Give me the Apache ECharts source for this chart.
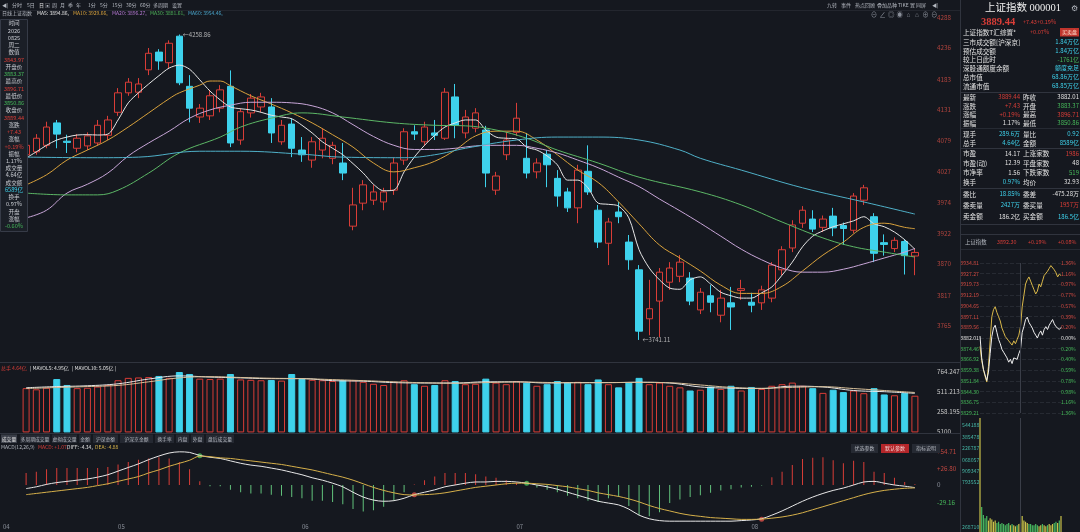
<!DOCTYPE html>
<html>
<head>
<meta charset="utf-8">
<title>上证指数 000001 日线</title>
<script src="https://cdn.jsdelivr.net/npm/echarts@6.0.0/dist/echarts.min.js"></script>
<style>
html,body{margin:0;padding:0;background:#15181f;overflow:hidden;}
#chart{width:1080px;height:532px;}
</style>
</head>
<body>
<div id="chart"></div>
<script>
// ================= DATA =================
const monthCounts = [['04', 9], ['05', 18], ['06', 21], ['07', 23], ['08', 17]];

const opens = [4055,4060,4071,4109,4078,4066,4070,4075,4088,4127,
4160,4161,4199,4229,4211,4256,4171,4119,4121,4134,
4171,4080,4126,4136,4136,4077,4107,4063,4046,4063,
4049,4041,3934,3973,3978,3975,3995,4046,4094,4077,
4092,4083,4153,4092,4100,4097,3995,4055,4093,4049,
4026,4056,4015,3992,3965,4027,3961,3905,3958,3907,
3860,3777,3807,3839,3849,3846,3792,3816,3783,3804,
3825,3805,3804,3812,3860,3897,3939,3946,3932,3951,
3935,3927,3978,3950,3906,3896,3908,3883.37];
const closes = [4071,4083,4102,4090,4076,4083,4087,4105,4114,4160,
4178,4175,4227,4214,4244,4177,4134,4134,4155,4165,
4075,4128,4151,4153,4092,4105,4066,4055,4077,4083,
4071,4024,3970,4004,3992,3992,4041,4094,4090,4102,
4088,4161,4105,4119,4126,4024,4019,4080,4117,4024,
4041,4038,3985,3965,4029,3992,3907,3941,3950,3877,
3756,3794,3856,3863,3873,3807,3822,3805,3812,3797,
3828,3800,3826,3868,3894,3936,3961,3929,3946,3931,
3930,3985,3999,3888,3903,3910,3884,3889.44];
const lows = [4050,4055,4066,4066,4058,4059,4063,4070,4080,4121,
4155,4151,4190,4199,4202,4173,4110,4109,4114,4127,
4068,4072,4118,4127,4075,4072,4051,4043,4033,4049,
4039,4012,3927,3961,3970,3961,3987,4038,4080,4070,
4080,4080,4083,4083,4093,4000,3987,4046,4087,4015,
4015,4000,3967,3958,3939,3987,3897,3868,3939,3860,
3741.11,3749,3746,3826,3839,3800,3785,3788,3771,3758,
3809,3788,3792,3805,3851,3890,3931,3924,3924,3917,
3902,3922,3970,3873,3884,3890,3852,3850.86];
const highs = [4080,4090,4111,4114,4089,4090,4093,4114,4121,4168,
4185,4185,4236,4234,4249,4258.86,4190,4141,4165,4173,
4198,4134,4158,4160,4151,4114,4117,4085,4085,4100,
4077,4075,3999,4012,4004,3999,4050,4100,4105,4111,
4114,4168,4175,4131,4134,4104,4026,4094,4143,4092,
4049,4063,4029,3999,4038,4071,3970,3948,3975,3919,
3868,3843,3863,3873,3885,3856,3829,3834,3826,3831,
3843,3821,3833,3873,3900,3944,3968,3961,3952,3965,
3940,3990,4004,3956,3920,3915,3912,3896.71];

const ma5 = [4049.5,4060,4071,4080,4085,4088.5,4089,4088.5,4090,4114,
4143,4160,4175,4189,4202,4207,4200,4182,4163,4148,
4136,4133,4131,4127,4122,4119,4116,4105,4092,4077,
4066,4055,4040,4024,4005,3994,3995,4026,4051,4071,
4088,4102,4109,4114,4114,4097,4085,4083,4082,4068,
4063,4053,4038,4012,4012,3999,3973,3971,3968,3948,
3894,3863,3843,3829,3827,3843,3848,3836,3822,3816,
3812,3812,3821,3831,3851,3873,3899,3917,3926,3933,
3938,3943,3950,3938,3933,3924,3911,3894.86];
const ma10 = [[0,4004],[2,4021],[4,4046],[6,4063],[8,4080],[10,4102],[12,4126],[14,4150],[15,4160],[17,4173],[18,4180],[19,4180],[20,4172],[22,4155],[24,4141],[26,4126],[28,4109],[30,4089],[32,4068],[34,4041],[36,4026],[38,4033],[40,4044],[42,4063],[44,4087],[46,4095],[48,4095],[50,4080],[52,4055],[54,4029],[56,4008],[58,3975],[60,3938],[62,3902],[64,3880],[66,3858],[68,3834],[70,3820],[72,3820],[74,3832],[76,3858],[78,3885],[80,3907],[82,3932],[84,3939],[86,3932],[87,3929.66]];
const ma20 = [[0,3948],[2,3961],[4,3990],[6,4005],[8,4024],[10,4053],[12,4075],[14,4095],[16,4117],[18,4131],[20,4139],[22,4144],[24,4144],[26,4143],[28,4138],[30,4126],[32,4106],[34,4086],[36,4071],[38,4064],[40,4064],[42,4066],[44,4070],[46,4071],[48,4071],[50,4066],[52,4058],[54,4046],[56,4033],[58,4017],[60,4001],[62,3980],[64,3960],[66,3939],[68,3917],[70,3895],[72,3877],[74,3863],[76,3856],[78,3856],[80,3861],[82,3870],[84,3880],[86,3890],[87,3896.27]];
const ma30 = [[0,3990],[4,3987],[7,3987],[9,3995],[12,4024],[15,4058],[19,4085],[21,4102],[24,4117],[27,4126],[31,4119],[36,4109],[40,4105],[43,4104],[46,4097],[49,4083],[52,4063],[56,4041],[60,4017],[66,3992],[70,3970],[74,3941],[78,3914],[81,3899],[84,3890],[87,3881.61]];
const ma60 = [[0,4051],[7,4050],[11,4051],[17,4061],[21,4061],[27,4056],[31,4051],[37,4050],[40,4055],[43,4066],[48,4080],[52,4085],[56,4085],[60,4080],[64,4063],[66,4049],[70,4029],[76,3999],[82,3975],[87,3954.46]];

const volumes = [560,545,565,675,600,560,565,580,600,660,
690,695,700,714,690,764,739,680,675,680,
739,670,665,660,663,655,739,676,665,660,
650,663,660,640,615,600,640,660,610,590,
600,660,650,610,615,680,630,610,650,630,
590,610,650,630,640,610,670,610,570,630,
690,610,630,590,570,530,540,580,550,590,
530,575,550,590,610,630,590,560,500,540,
510,530,496,560,480,470,500,464];
const mavol5 = [[0,565],[3,580],[6,590],[9,615],[12,675],[15,715],[18,700],[21,690],[24,680],[27,680],[30,655],[33,648],[36,630],[39,625],[42,625],[45,640],[48,640],[51,625],[54,630],[57,630],[60,635],[63,625],[66,575],[69,560],[72,555],[75,585],[78,575],[81,530],[84,515],[87,495]];
const mavol10 = [[0,555],[3,568],[6,580],[9,595],[12,640],[15,690],[18,705],[21,695],[24,685],[27,680],[30,668],[33,655],[36,640],[39,628],[42,622],[45,630],[48,638],[51,632],[54,628],[57,630],[60,632],[63,628],[66,600],[69,570],[72,558],[75,570],[78,578],[81,555],[84,530],[87,505]];

const dif = [-6,-3,1,4,6,8,10,13,17,23,
29,35,42,48,53,55,54,49,46,44,
40,36,33,31,28,25,21,17,12,8,
3,-3,-12,-20,-25,-27,-26,-22,-16,-12,
-8,-3,0,3,5,5,6,6,5,3,
0,-3,-7,-12,-17,-22,-27,-30,-33,-40,
-50,-56,-59,-60,-60,-60,-60,-60,-60,-60,
-59,-58,-56,-50,-43,-35,-27,-20,-14,-9,
-5,0,5,6,3,0,-2,-4.34];
const dea = [-16,-14,-12,-10,-8,-6,-4,-1,2,6,
10,14,20,25,31,36,41,48,47,45,
44,42,40,38,36,34,31,28,25,21,
17,13,8,2,-4,-9,-13,-16,-16.5,-16,
-15,-13,-10,-7,-4,-2,0,2,3,3,
2,1,-1,-3,-6,-9,-13,-16,-19,-23,
-28,-34,-39,-43,-47,-50,-52,-54,-55,-56,
-57,-57,-56.5,-55,-53,-50,-46,-41,-36,-31,
-26,-21,-16,-12,-9,-7,-5.5,-4.88];
const macdHist = [20,22,26,28,28,28,28,28,30,34,
38,42,44,46,44,38,26,6,-2,-2,
-8,-12,-14,-14,-16,-18,-20,-22,-26,-26,
-28,-32,-40,-44,-42,-36,-26,-12,1,8,
14,20,20,20,18,14,12,8,4,0,
-4,-8,-12,-18,-22,-26,-28,-22,-20,-35,
-50,-52,-45,-30,-24,-20,-17,-13,-9,-7,
-4,-3,-1,13,22,33,43,45,46,41,
36,40,38,22,20,12,5,1.07];
const crossMarks = [[17, 48.5, 'g'], [38, -16.2, 'r'], [49, 3, 'g'], [72, -56.7, 'r']];

const priceTicks = [3765, 3817, 3870, 3922, 3974, 4027, 4079, 4131, 4183, 4236, 4288];
const volTickValues = [5.175, 258.195, 511.213, 764.247];
const volTickLabels = ['5100', '258.195', '511.213', '764.247'];
const macdTickValues = [-29.16, 0, 26.80, 54.71];
const macdTickLabels = ['-29.16', '0', '+26.80', '+54.71'];

// intraday mini chart (5-minute samples)
const miniIndex = [3883.4,3868,3860,3856,3852,3858,3871,3883,3889,3891,3886,3881,3878,3874,3872,3870,3868,3865,3867,3864,3868,3869,3867,3871,3874,
3886,3890,3895,3896.7,3893,3891,3889,3886,3884,3882,3885,3887,3884,3888,3890,3888,3891,3893,3895,3892,3890,3891,3888,3889.44];
const miniLead = [3876,3866,3860,3855,3851,3862,3880,3897,3902,3904,3900,3897,3894,3889,3886,3883,3882,3880,3879,3877,3880,3878,3881,3884,3890,
3904,3912,3920,3923,3925,3922,3919,3916,3913,3915,3920,3918,3922,3926,3925,3929,3931,3933,3934,3930,3928,3925,3927,3926];
const miniVol = [100,22,15,12,14,10,12,11,9,10,8,9,7,8,7,6,7,8,6,7,6,5,6,7,8,
14,10,9,8,7,7,6,6,7,6,5,6,7,6,5,6,7,6,7,8,9,8,10,14];
const miniTicks = [3829.21,3836.75,3844.30,3851.84,3859.38,3866.92,3874.46,3882.01,3889.56,3897.11,3904.65,3912.19,3919.73,3927.27,3934.81];
const miniPct = ['1.36%','1.16%','0.97%','0.77%','0.57%','0.39%','0.20%','0.00%','0.20%','0.40%','0.59%','0.78%','0.98%','1.16%','1.36%'];

// ================= BUILD =================
const RED = '#d93d37', CYAN = '#3ed2ec', GREEN = '#46b95a', MGREEN = '#62c27c';
const WHITE = '#e2e2e2', GRAY = '#b4b8c0', DIM = '#8a8f99';
const FONT = '"Noto Sans CJK SC", "Noto Sans", sans-serif';

const categories = [];
const monthStartIdx = [];
monthCounts.forEach(([m, n]) => {
  monthStartIdx.push(categories.length);
  for (let d = 1; d <= n; d++) categories.push(m + '-' + d);
});
const miniTimes = [];
for (let k = 0; k <= 24; k++) { const t = 570 + 5 * k; miniTimes.push(Math.floor(t / 60) + ':' + String(t % 60).padStart(2, '0')); }
for (let k = 1; k <= 24; k++) { const t = 780 + 5 * k; miniTimes.push(Math.floor(t / 60) + ':' + String(t % 60).padStart(2, '0')); }

const ohlc = opens.map((o, i) => [o, closes[i], lows[i], highs[i]]);
const volData = volumes.map((v, i) => {
  const up = closes[i] >= opens[i];
  return { value: v, itemStyle: { color: up ? 'rgba(0,0,0,0)' : CYAN, borderColor: up ? RED : CYAN, borderWidth: 1 } };
});
const macdData = macdHist.map(v => ({ value: v, itemStyle: { color: v >= 0 ? RED : MGREEN } }));
const miniVolData = miniVol.map((v, i) => ({ value: v, itemStyle: { color: (i === 0 || miniIndex[i] >= miniIndex[i - 1]) ? '#c9c24a' : '#48b860' } }));

function nearest(arr, v) { let bi = 0, bd = Infinity; arr.forEach((a, i) => { const d = Math.abs(a - v); if (d < bd) { bd = d; bi = i; } }); return bi; }

// graphics helpers
const G = [];
function T(x, y, text, fill, size, align, opt) {
  const e = { type: 'text', x: x, y: y, z: 100, silent: true,
    style: { text: text, fill: fill || GRAY, font: (size || 6) + 'px ' + FONT,
      align: align || 'left', verticalAlign: 'middle', textAlign: align || 'left', textVerticalAlign: 'middle' } };
  if (opt && opt.font) e.style.font = opt.font;
  G.push(e);
}
function R(x, y, w, h, fill, stroke, z) {
  G.push({ type: 'rect', z: z || 98, silent: true, shape: { x: x, y: y, width: w, height: h }, style: { fill: fill, stroke: stroke || null, lineWidth: 1 } });
}
function L(x1, y1, x2, y2, c) {
  G.push({ type: 'line', z: 97, silent: true, shape: { x1: x1, y1: y1, x2: x2, y2: y2 }, style: { stroke: c || '#2c303a', lineWidth: 1 } });
}

// separators
L(0, 362.5, 960, 362.5, '#30343e');
L(0, 433.5, 960, 433.5, '#30343e');
L(960.5, 0, 960.5, 532, '#30343e');
L(0, 10.5, 960, 10.5, '#23262e');

// top toolbar
[['◀|', 2], ['分时', 12], ['5日', 27], ['日', 39], ['▣', 45], ['周', 52], ['月', 60], ['季', 68], ['年', 76], ['1分', 88], ['5分', 100], ['15分', 112], ['30分', 126], ['60分', 140], ['多周期', 153], ['设置', 172]]
  .forEach(([t, x]) => T(x, 5, t, t === '日' ? WHITE : GRAY, 5));
[['九转', 827], ['事件', 841], ['热点回顾', 855], ['叠加品种', 877], ['TIKE', 898], ['置', 910], ['同屏', 916], ['◀|', 932]]
  .forEach(([t, x]) => T(x, 5, t, GRAY, 5));
['⊖', '∠', '◎', '◉', '⌂', '⌂', '⊕', '⊖'].forEach((t, i) => T(874 + i * 8.6, 15, t, DIM, 6.5, 'center'));

// MA legend row
T(2, 13.5, '日线', GRAY, 5);
T(12, 13.5, '上证指数', GRAY, 5);
T(37, 13.5, 'MA5: 3894.86,', WHITE, 5);
T(73, 13.5, 'MA10: 3929.66,', '#d9a23c', 5);
T(112, 13.5, 'MA20: 3896.27,', '#b477d1', 5);
T(150, 13.5, 'MA30: 3881.61,', '#4fb65a', 5);
T(188, 13.5, 'MA60: 3954.46,', '#4aa6cc', 5);

// left info panel
R(0.5, 19.5, 27, 212, '#1b1f27', '#363b47', 99);
const leftInfo = [['时间'], ['2026'], ['0825'], ['周二'], ['数值'], ['3843.97', RED], ['开盘价'], ['3883.37', GREEN], ['最高价'], ['3896.71', RED], ['最低价'], ['3850.86', GREEN], ['收盘价'], ['3889.44', RED], ['涨跌'], ['+7.43', RED], ['涨幅'], ['+0.19%', RED], ['振幅'], ['1.17%'], ['成交量'], ['4.64亿'], ['成交额'], ['6589亿', CYAN], ['换手'], ['0.97%'], ['开盘'], ['涨幅'], ['-0.60%', GREEN]];
leftInfo.forEach(([t, c], i) => T(14, 23.3 + i * 7.24, t, c || '#c9ccd2', 5.6, 'center'));

// volume legend
T(1, 368, '总手 4.64亿', RED, 5);
T(30, 368, '| MAVOL5: 4.95亿', WHITE, 5);
T(72, 368, '| MAVOL10: 5.05亿 |', WHITE, 5);

// indicator tabs
[['成交量', 1, 18], ['多周期成交量', 20, 51], ['虚拟成交量', 52, 78], ['金额', 79, 92], ['沪深金额', 93, 119], ['沪深京金额', 120, 154], ['换手率', 155, 175], ['内盘', 176, 190], ['外盘', 191, 205], ['盘后成交量', 206, 235]]
  .forEach(([t, a, b], i) => { R(a, 434.5, b - a - 1, 8.5, i === 0 ? '#3b3f49' : '#242831', null, 98); T((a + b - 1) / 2, 439, t, i === 0 ? WHITE : GRAY, 4.8, 'center'); });

// MACD legend
T(1, 447.5, 'MACD(12,26,9)', GRAY, 5);
T(38, 447.5, 'MACD: +1.07,', RED, 5);
T(67, 447.5, 'DIFF: -4.34,', WHITE, 5);
T(95, 447.5, 'DEA: -4.88', '#d9b44a', 5);
// MACD buttons
R(851, 444, 27, 9, '#262a33'); T(864.5, 448.5, '优选参数', GRAY, 5, 'center');
R(881, 444, 28, 9, '#b3262a'); T(895, 448.5, '默认参数', '#f3d6d6', 5, 'center');
R(912, 444, 28, 9, '#262a33'); T(926, 448.5, '指标说明', GRAY, 5, 'center');
T(3, 527, '04', DIM, 6, 'left');

// right panel
T(1023, 8, '上证指数 000001', '#f0f0f0', 10.5, 'center', { font: '10.5px "Liberation Serif", "Noto Sans CJK SC", serif' });
T(1074, 8, '⚙', GRAY, 8, 'center');
T(981, 22, '3889.44', RED, 10.5, 'left', { font: 'bold 10.5px "Liberation Serif", serif' });
T(1023, 22, '+7.43', RED, 5.6);
T(1037, 22, '+0.19%', RED, 5.6);
T(963, 32, '上证指数T汇综置*', WHITE, 6.6);
T(1030, 32, '+0.07%', RED, 5.6);
R(1060, 28, 19, 8.5, '#c0352d', null, 99); T(1069.5, 32.2, '买卖盘', '#ffe7d6', 5, 'center');
const rightRows1 = [['三市成交额[沪深京]', '1.84万亿', CYAN, 42], ['预估成交额', '1.84万亿', CYAN, 51], ['较上日此时', '-1761亿', GREEN, 59.5], ['深股通额度余额', '额度充足', CYAN, 68], ['总市值', '68.86万亿', CYAN, 77], ['流通市值', '68.85万亿', CYAN, 86]];
rightRows1.forEach(([a, b, c, y]) => { T(963, y, a, WHITE, 6.6); T(1079, y, b, c, 6, 'right'); });
L(961, 92.5, 1080, 92.5, '#30343e');
const rightRows2 = [
  [97, '最新', '3889.44', RED, '昨收', '3882.01', WHITE],
  [106, '涨跌', '+7.43', RED, '开盘', '3883.37', GREEN],
  [114.5, '涨幅', '+0.19%', RED, '最高', '3896.71', RED],
  [123, '振幅', '1.17%', WHITE, '最低', '3850.86', GREEN],
  [134, '现手', '289.6万', CYAN, '量比', '0.92', CYAN],
  [143, '总手', '4.64亿', CYAN, '金额', '8589亿', CYAN],
  [153.5, '市盈', '14.17', WHITE, '上涨家数', '1986', RED],
  [163, '市盈(动)', '12.39', WHITE, '平盘家数', '48', WHITE],
  [172.5, '市净率', '1.56', WHITE, '下跌家数', '519', GREEN],
  [182, '换手', '0.97%', CYAN, '均价', '32.93', WHITE],
  [194, '委比', '18.85%', CYAN, '委差', '-475.28万', WHITE],
  [205, '委卖量', '2427万', CYAN, '委买量', '1957万', RED],
  [216.5, '卖金额', '186.2亿', WHITE, '买金额', '186.5亿', CYAN]
];
rightRows2.forEach(([y, a, b, cb, c, d, cd]) => { T(963, y, a, WHITE, 6.6); T(1020, y, b, cb, 6, 'right'); T(1023, y, c, WHITE, 6.6); T(1079, y, d, cd, 6, 'right'); });
L(961, 128.5, 1080, 128.5, '#262a33');
L(961, 148.5, 1080, 148.5, '#30343e');
L(961, 188.5, 1080, 188.5, '#30343e');
L(961, 224.5, 1080, 224.5, '#30343e');
L(961, 234.5, 1080, 234.5, '#30343e');
T(965, 241.5, '上证指数', GRAY, 5.4);
T(997, 241.5, '3892.30', RED, 5.4);
T(1028, 241.5, '+0.19%', RED, 5.4);
T(1058, 241.5, '+0.08%', RED, 5.4);
L(961, 249.5, 1080, 249.5, '#262a33');
[['544188', 425], ['385478', 437], ['226787', 448], ['068057', 460], ['909347', 471], ['793552', 482], ['268710', 527]]
  .forEach(([t, y]) => T(962, y, t, '#46b7a6', 5.2));

// ================= OPTION =================
const noAxis = { axisLine: { show: false }, axisTick: { show: false }, splitLine: { show: false } };
const option = {
  backgroundColor: '#15181f',
  animation: false,
  textStyle: { fontFamily: FONT },
  grid: [
    { left: 21, top: 12, width: 899, height: 346, outerBoundsMode: 'none' },
    { left: 21, top: 362, width: 899, height: 70, outerBoundsMode: 'none' },
    { left: 21, top: 445, width: 899, height: 77, outerBoundsMode: 'none' },
    { left: 980, top: 263, width: 81, height: 150, outerBoundsMode: 'none' },
    { left: 980, top: 418, width: 81, height: 114, outerBoundsMode: 'none' }
  ],
  xAxis: [
    { type: 'category', gridIndex: 0, data: categories, boundaryGap: true, show: false },
    { type: 'category', gridIndex: 1, data: categories, boundaryGap: true, show: false },
    { type: 'category', gridIndex: 2, data: categories, boundaryGap: true, ...noAxis,
      axisLabel: { interval: (i) => monthStartIdx.indexOf(i) > 0, formatter: v => v.split('-')[0], color: DIM, fontSize: 6, margin: 2, align: 'left', hideOverlap: false } },
    { type: 'category', gridIndex: 3, data: miniTimes, boundaryGap: false, show: false },
    { type: 'category', gridIndex: 4, data: miniTimes, boundaryGap: false, show: false }
  ],
  yAxis: [
    { type: 'value', gridIndex: 0, position: 'right', min: 3710.5, max: 4297, ...noAxis,
      axisLabel: { customValues: priceTicks, formatter: v => String(Math.round(v)), color: '#b0443d', fontSize: 6.3, margin: 17, hideOverlap: false } },
    { type: 'value', gridIndex: 1, position: 'right', min: 5.175, max: 890.7, ...noAxis,
      axisLabel: { customValues: volTickValues, formatter: v => volTickLabels[nearest(volTickValues, v)], color: '#c8c8c8', fontSize: 6.3, margin: 17, hideOverlap: false } },
    { type: 'value', gridIndex: 2, position: 'right', min: -61.35, max: 66.3, ...noAxis,
      axisLabel: { customValues: macdTickValues, formatter: v => macdTickLabels[nearest(macdTickValues, v)],
        color: v => { const n = parseFloat(v); return n > 0.01 ? '#c04740' : (n < -0.01 ? GREEN : DIM); }, fontSize: 6.3, margin: 17, hideOverlap: false } },
    { type: 'value', gridIndex: 3, position: 'left', min: 3829.21, max: 3934.81, axisLine: { show: false },
      axisTick: { show: false, customValues: miniTicks },
      splitLine: { show: true, lineStyle: { color: '#262a32', type: 'dashed', width: 1 } },
      axisLabel: { customValues: miniTicks, formatter: v => Number(v).toFixed(2),
        color: v => { const n = parseFloat(v); return n > 3882.5 ? '#cf4a42' : (n < 3881.5 ? GREEN : WHITE); }, fontSize: 5.2, margin: 1, hideOverlap: false } },
    { type: 'value', gridIndex: 3, position: 'right', min: 3829.21, max: 3934.81, ...noAxis,
      axisLabel: { customValues: miniTicks, formatter: v => miniPct[miniTicks.length - 1 - nearest(miniTicks, v)],
        color: v => { const n = parseFloat(v); return n > 3882.5 ? '#cf4a42' : (n < 3881.5 ? GREEN : WHITE); }, fontSize: 5.2, margin: 0, hideOverlap: false } },
    { type: 'value', gridIndex: 4, min: 0, max: 100, show: false }
  ],
  series: [
    { type: 'candlestick', name: '日K', xAxisIndex: 0, yAxisIndex: 0, data: ohlc, barWidth: 7,
      itemStyle: { color: 'rgba(0,0,0,0)', color0: CYAN, borderColor: RED, borderColor0: CYAN, borderWidth: 1 } },
    { type: 'line', name: 'MA5', xAxisIndex: 0, yAxisIndex: 0, data: ma5, smooth: 0.3, symbol: 'none', lineStyle: { width: 1, color: '#e6e6e6' } },
    { type: 'line', name: 'MA10', xAxisIndex: 0, yAxisIndex: 0, data: ma10, smooth: 0.4, symbol: 'none', lineStyle: { width: 1, color: '#d9a23c' } },
    { type: 'line', name: 'MA20', xAxisIndex: 0, yAxisIndex: 0, data: ma20, smooth: 0.4, symbol: 'none', lineStyle: { width: 1, color: '#c8a6d8' } },
    { type: 'line', name: 'MA30', xAxisIndex: 0, yAxisIndex: 0, data: ma30, smooth: 0.4, symbol: 'none', lineStyle: { width: 1, color: '#5cb766' } },
    { type: 'line', name: 'MA60', xAxisIndex: 0, yAxisIndex: 0, data: ma60, smooth: 0.4, symbol: 'none', lineStyle: { width: 1, color: '#4fb0c8' } },
    { type: 'scatter', xAxisIndex: 0, yAxisIndex: 0, symbolSize: 1, itemStyle: { color: 'rgba(0,0,0,0)' },
      data: [[15, highs[15]], [60, lows[60]]],
      label: { show: true, position: 'right', distance: 3, color: '#d8d8d8', fontSize: 6, formatter: p => '←' + p.value[1].toFixed(2) } },
    { type: 'bar', name: '成交量', xAxisIndex: 1, yAxisIndex: 1, data: volData, barWidth: 7 },
    { type: 'line', name: 'MAVOL5', xAxisIndex: 1, yAxisIndex: 1, data: mavol5, smooth: 0.4, symbol: 'none', lineStyle: { width: 1, color: '#e8e8e8' } },
    { type: 'line', name: 'MAVOL10', xAxisIndex: 1, yAxisIndex: 1, data: mavol10, smooth: 0.4, symbol: 'none', lineStyle: { width: 1, color: '#d8c09a' } },
    { type: 'bar', name: 'MACD', xAxisIndex: 2, yAxisIndex: 2, data: macdData, barWidth: 1 },
    { type: 'line', name: 'DIF', xAxisIndex: 2, yAxisIndex: 2, data: dif, smooth: 0.3, symbol: 'none', lineStyle: { width: 1, color: '#e8e8e8' } },
    { type: 'line', name: 'DEA', xAxisIndex: 2, yAxisIndex: 2, data: dea, smooth: 0.3, symbol: 'none', lineStyle: { width: 1, color: '#d6b04a' } },
    { type: 'scatter', xAxisIndex: 2, yAxisIndex: 2, symbolSize: 5,
      data: crossMarks.map(m => ({ value: [m[0], m[1]], itemStyle: { color: m[2] === 'g' ? '#4cc35e' : '#e0524a' } })) },
    { type: 'line', name: '领先', xAxisIndex: 3, yAxisIndex: 3, data: miniLead, symbol: 'none', lineStyle: { width: 1, color: '#d9b84a' } },
    { type: 'line', name: '上证指数', xAxisIndex: 3, yAxisIndex: 3, data: miniIndex, symbol: 'none', lineStyle: { width: 1, color: '#f0f0f0' },
      markLine: { silent: true, symbol: 'none', label: { show: false }, lineStyle: { color: '#3a3e48', type: 'solid', width: 1 }, data: [{ xAxis: '11:30' }] } },
    { type: 'bar', name: '分时量', xAxisIndex: 4, yAxisIndex: 5, data: miniVolData, barWidth: 1.2,
      markLine: { silent: true, symbol: 'none', label: { show: false }, lineStyle: { color: '#3a3e48', type: 'solid', width: 1 }, data: [{ xAxis: '11:30' }] } }
  ],
  graphic: { elements: G }
};

const chart = echarts.init(document.getElementById('chart'), null, { renderer: 'canvas', width: 1080, height: 532 });
chart.setOption(option);
</script>
</body>
</html>
